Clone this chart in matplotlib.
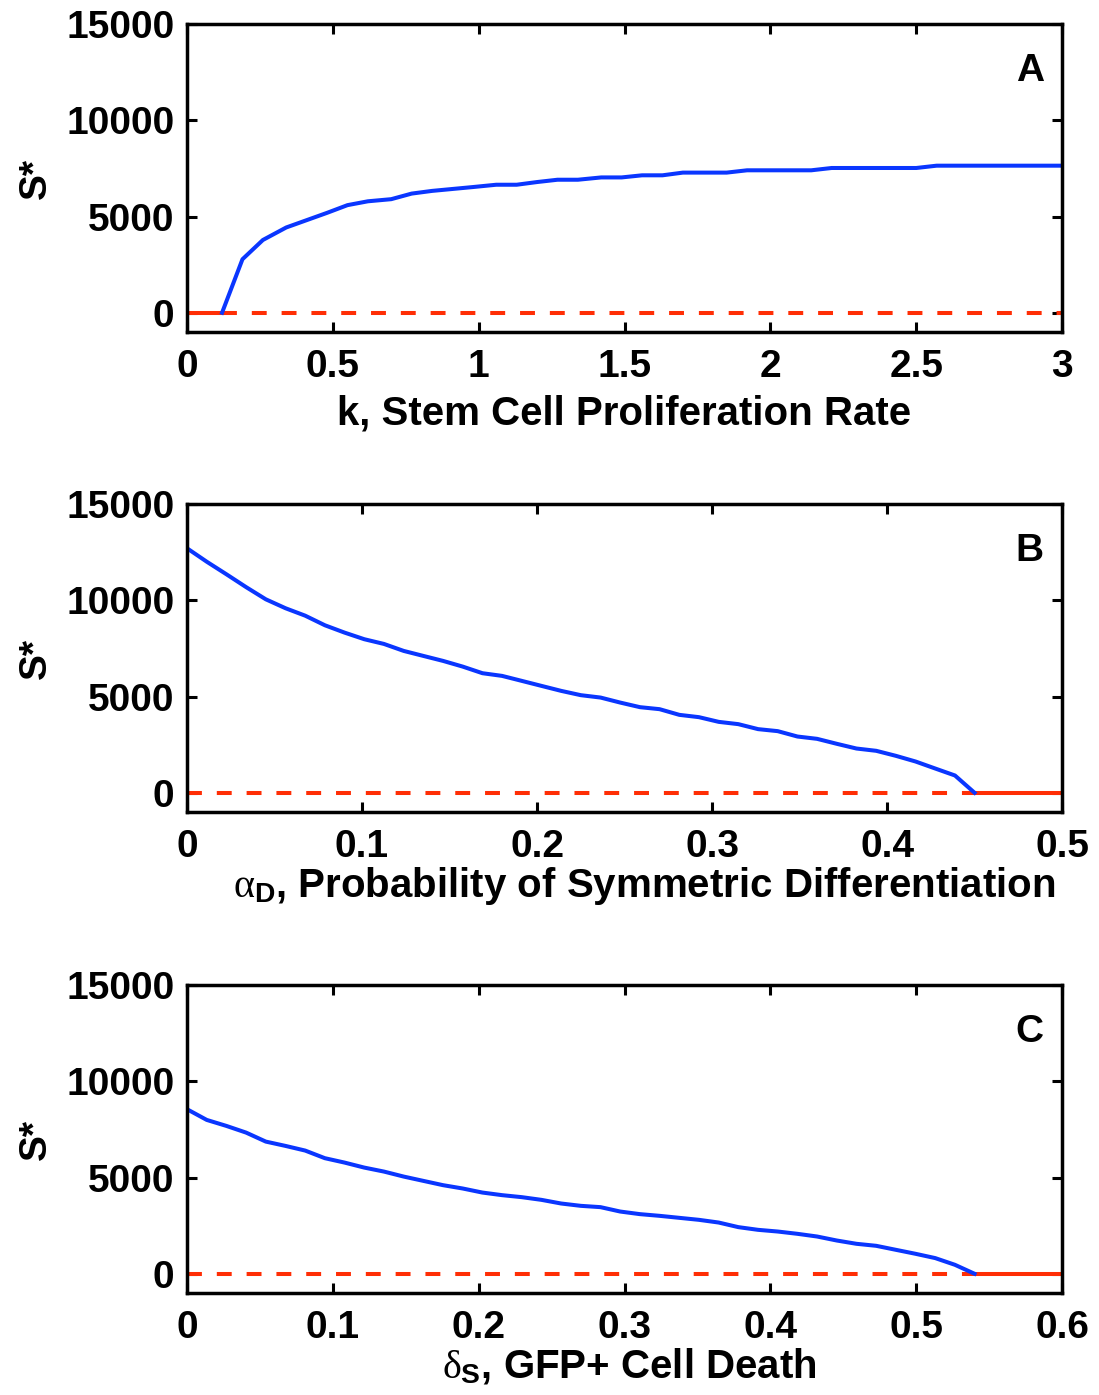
import numpy as np
import matplotlib
matplotlib.use('Agg')
import matplotlib.pyplot as plt

plt.rcParams['font.family'] = ['Liberation Sans', 'DejaVu Sans']
plt.rcParams['font.weight'] = 'bold'
plt.rcParams['mathtext.fontset'] = 'custom'
plt.rcParams['mathtext.it'] = 'Liberation Serif:weight=normal'
plt.rcParams['mathtext.rm'] = 'Liberation Sans:bold'
plt.rcParams['mathtext.bf'] = 'Liberation Sans:bold'

# Panel A: S* vs k
k_vals = [0.12, 0.19, 0.26, 0.34, 0.41, 0.48, 0.55, 0.62, 0.70, 0.77,
          0.84, 0.91, 0.98, 1.06, 1.13, 1.20, 1.27, 1.34, 1.42, 1.49,
          1.56, 1.63, 1.70, 1.78, 1.85, 1.92, 1.99, 2.06, 2.14, 2.21,
          2.28, 2.35, 2.42, 2.50, 2.57, 2.64, 2.71, 2.78, 2.86, 2.93, 3.00]
S_k = [0, 2780, 3780, 4430, 4810, 5190, 5590, 5790, 5900, 6190,
       6330, 6430, 6530, 6650, 6650, 6790, 6910, 6910, 7030, 7030,
       7140, 7140, 7280, 7280, 7280, 7400, 7400, 7400, 7400, 7520,
       7520, 7520, 7520, 7520, 7640, 7640, 7640, 7640, 7640, 7640, 7640]
zero_solid_A = [0, 0.12]
zero_dash_A = [0.12, 3.0]

# Panel B: S* vs alpha_D
aD_vals = [0.0000, 0.0113, 0.0225, 0.0338, 0.0450, 0.0563, 0.0675, 0.0788, 0.0900, 0.1013,
           0.1125, 0.1238, 0.1350, 0.1463, 0.1575, 0.1688, 0.1800, 0.1913, 0.2025, 0.2138,
           0.2250, 0.2363, 0.2475, 0.2588, 0.2700, 0.2813, 0.2925, 0.3038, 0.3150, 0.3263,
           0.3375, 0.3488, 0.3600, 0.3713, 0.3825, 0.3938, 0.4050, 0.4163, 0.4275, 0.4388, 0.4500]
S_aD = [12700, 12000, 11350, 10680, 10050, 9585, 9200, 8700, 8320, 7976,
        7732, 7369, 7110, 6850, 6555, 6211, 6072, 5812, 5553, 5293,
        5070, 4946, 4686, 4447, 4343, 4048, 3928, 3684, 3565, 3306,
        3202, 2922, 2802, 2543, 2299, 2180, 1920, 1624, 1261, 898, 0]
zero_dash_B = [0, 0.45]
zero_solid_B = [0.45, 0.5]

# Panel C: S* vs delta_S
dS_vals = [0.0000, 0.0135, 0.0270, 0.0405, 0.0540, 0.0675, 0.0810, 0.0945, 0.1080, 0.1215,
           0.1350, 0.1485, 0.1620, 0.1755, 0.1890, 0.2025, 0.2160, 0.2295, 0.2430, 0.2565,
           0.2700, 0.2835, 0.2970, 0.3105, 0.3240, 0.3375, 0.3510, 0.3645, 0.3780, 0.3915,
           0.4050, 0.4185, 0.4320, 0.4455, 0.4590, 0.4725, 0.4860, 0.4995, 0.5130, 0.5265, 0.5400]
S_dS = [8547, 7992, 7680, 7333, 6866, 6642, 6400, 6004, 5776, 5516,
        5309, 5050, 4826, 4603, 4430, 4219, 4084, 3980, 3840, 3650,
        3529, 3461, 3233, 3098, 3010, 2906, 2802, 2662, 2423, 2283,
        2195, 2076, 1936, 1728, 1557, 1453, 1245, 1038, 815, 467, 0]
zero_dash_C = [0, 0.54]
zero_solid_C = [0.54, 0.6]

yticks = [0, 5000, 10000, 15000]
xticks_A = [0, 0.5, 1, 1.5, 2, 2.5, 3]
xticklabels_A = ['0', '0.5', '1', '1.5', '2', '2.5', '3']
xticks_B = [0, 0.1, 0.2, 0.3, 0.4, 0.5]
xticklabels_B = ['0', '0.1', '0.2', '0.3', '0.4', '0.5']
xticks_C = [0, 0.1, 0.2, 0.3, 0.4, 0.5, 0.6]
xticklabels_C = ['0', '0.1', '0.2', '0.3', '0.4', '0.5', '0.6']

BLUE = '#0A36FF'
RED = '#FF2E05'
FS = 28
LW = 2.9

fig = plt.figure(figsize=(10.99, 13.95), dpi=100)

# (bottom, x, y, solid zero, dashed zero, xlim, ticks, ticklabels, xlabel, letter, labelpad, label x)
panels = [
    (0.762, k_vals, S_k, zero_solid_A, zero_dash_A, (0, 3), xticks_A, xticklabels_A,
     'k, Stem Cell Proliferation Rate', 'A', 7, 0.5),
    (0.4179, aD_vals, S_aD, zero_solid_B, zero_dash_B, (0, 0.5), xticks_B, xticklabels_B,
     r'$\alpha_{\mathrm{D}}$, Probability of Symmetric Differentiation', 'B', 0, 0.522),
    (0.0731, dS_vals, S_dS, zero_solid_C, zero_dash_C, (0, 0.6), xticks_C, xticklabels_C,
     r'$\delta_{\mathrm{S}}$, GFP+ Cell Death', 'C', 0, 0.506),
]

for bottom, xv, sv, zs, zd, xlim, xt, xtl, xlabel, letter, lpad, lx in panels:
    ax = fig.add_axes([0.1702, bottom, 0.7962, 0.2208])
    ax.plot(zd, [0, 0], color=RED, lw=LW, dashes=(3.7, 3.7), solid_capstyle='butt')
    ax.plot(zs, [0, 0], color=RED, lw=LW, solid_capstyle='butt')
    ax.plot(xv, sv, color=BLUE, lw=LW)
    ax.set_xlim(xlim)
    ax.set_ylim(-1000, 15000)
    ax.set_xticks(xt)
    ax.set_xticklabels(xtl)
    ax.set_yticks(yticks)
    ax.set_yticklabels([str(v) for v in yticks])
    ax.tick_params(direction='in', length=7, width=2.2, labelsize=FS,
                   top=True, right=True, pad=9)
    ax.tick_params(axis='x', pad=12)
    for sp in ax.spines.values():
        sp.set_linewidth(2.5)
    ax.set_xlabel(xlabel, fontsize=29, fontweight='bold', labelpad=lpad)
    ax.xaxis.label.set_x(lx)
    ax.set_ylabel('S*', fontsize=FS, fontweight='bold', labelpad=9)
    ax.text(0.963, 0.848, letter, transform=ax.transAxes, fontsize=FS,
            fontweight='bold', ha='center', va='center')

fig.savefig('out.png', dpi=100)
